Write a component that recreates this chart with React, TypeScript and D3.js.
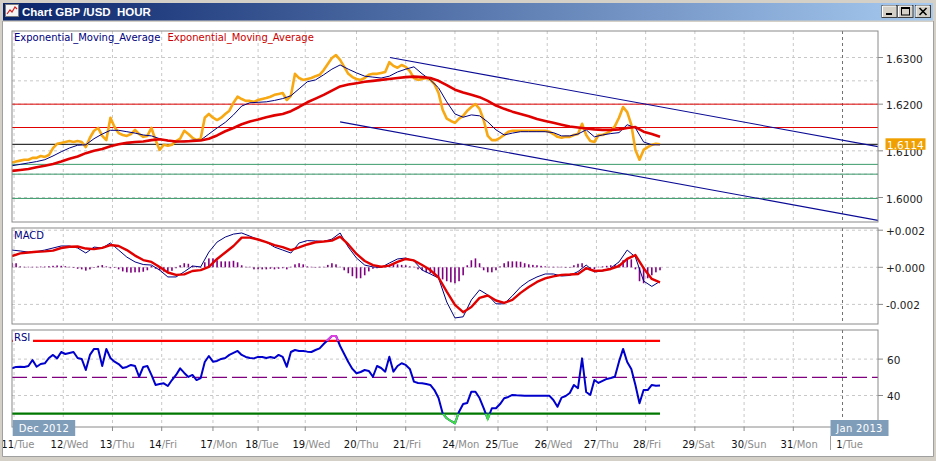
import React from "react";
import * as d3 from "d3";

// ---------------- data ----------------
const dayHours = [1, 25, 49, 73, 98, 120, 143, 168, 192, 216, 237, 261, 285, 309, 333, 357, 381, 405];
const dayNums = ["11", "12", "13", "14", "17", "18", "19", "20", "21", "24", "25", "26", "27", "28", "29", "30", "31", "1"];
const dayNames = ["Tue", "Wed", "Thu", "Fri", "Mon", "Tue", "Wed", "Thu", "Fri", "Mon", "Tue", "Wed", "Thu", "Fri", "Sat", "Sun", "Mon", "Tue"];
const monthLabels = ["Dec 2012", "Jan 2013"];
const monthStartHours = [0, 405];

const priceStep = 2; // hours between price samples
const price = [
  1.6075, 1.6077, 1.6079, 1.6081, 1.6081, 1.6085, 1.6085, 1.6089, 1.6087, 1.6091,
  1.6106, 1.6115, 1.6117, 1.6119, 1.6121, 1.6119, 1.6121, 1.6119, 1.6108, 1.6128,
  1.6143, 1.6149, 1.6132, 1.6123, 1.6171, 1.6151, 1.6138, 1.6134, 1.6132, 1.6136,
  1.6145, 1.6136, 1.6130, 1.6132, 1.6149, 1.6123, 1.6102, 1.6113, 1.6111, 1.6113,
  1.6121, 1.6126, 1.6143, 1.6136, 1.6128, 1.6123, 1.6126, 1.6171, 1.6179, 1.6171,
  1.6166, 1.6171, 1.6179, 1.6186, 1.6203, 1.6216, 1.6211, 1.6207, 1.6207, 1.6205,
  1.6209, 1.6211, 1.6213, 1.6216, 1.6220, 1.6222, 1.6224, 1.6209, 1.6218, 1.6265,
  1.6256, 1.6252, 1.6254, 1.6256, 1.6260, 1.6263, 1.6273, 1.6286, 1.6299, 1.6305,
  1.6295, 1.6280, 1.6265, 1.6258, 1.6254, 1.6252, 1.6256, 1.6263, 1.6265, 1.6265,
  1.6267, 1.6269, 1.6290, 1.6282, 1.6278, 1.6284, 1.6280, 1.6271, 1.6256, 1.6252,
  1.6254, 1.6256, 1.6252, 1.6243, 1.6224, 1.6188, 1.6169, 1.6164, 1.6160, 1.6169,
  1.6175, 1.6186, 1.6194, 1.6200, 1.6190, 1.6166, 1.6132, 1.6123, 1.6123, 1.6128,
  1.6134, 1.6141, 1.6143, 1.6143, 1.6143, 1.6143, 1.6143, 1.6143, 1.6143, 1.6143,
  1.6143, 1.6141, 1.6136, 1.6130, 1.6128, 1.6130, 1.6130, 1.6134, 1.6136, 1.6158,
  1.6134, 1.6121, 1.6119, 1.6134, 1.6134, 1.6138, 1.6143, 1.6153, 1.6171, 1.6194,
  1.6183, 1.6156, 1.6102, 1.6081, 1.6102, 1.6108, 1.6113, 1.6115, 1.6114,
];

const emaStep = 4; // hours between indicator samples
const emaFast = [
  1.6068, 1.6071, 1.6074, 1.6077, 1.6081, 1.6089, 1.6098, 1.6106, 1.6112, 1.6113,
  1.6126, 1.6136, 1.6144, 1.6144, 1.6141, 1.6138, 1.6134, 1.6132, 1.6126, 1.6121,
  1.6119, 1.6121, 1.6123, 1.6123, 1.6136, 1.6149, 1.6161, 1.6177, 1.6196, 1.6203,
  1.6204, 1.6205, 1.6208, 1.6212, 1.6218, 1.6233, 1.6248, 1.6252, 1.6263, 1.6275,
  1.6284, 1.6275, 1.6267, 1.6260, 1.6258, 1.6256, 1.6260, 1.6269, 1.6275, 1.6280,
  1.6265, 1.6252, 1.6235, 1.6205, 1.6179, 1.6172, 1.6177, 1.6175, 1.6162, 1.6145,
  1.6134, 1.6138, 1.6141, 1.6141, 1.6141, 1.6141, 1.6139, 1.6132, 1.6132, 1.6136,
  1.6145, 1.6130, 1.6134, 1.6137, 1.6139, 1.6156, 1.6149, 1.6119, 1.6113, 1.6113,
];
const emaSlow = [
  1.6057, 1.6059, 1.6061, 1.6065, 1.6068, 1.6072, 1.6077, 1.6083, 1.6088, 1.6095,
  1.6100, 1.6104, 1.6110, 1.6114, 1.6117, 1.6119, 1.6120, 1.6123, 1.6125, 1.6122,
  1.6120, 1.6120, 1.6121, 1.6122, 1.6126, 1.6133, 1.6142, 1.6149, 1.6157, 1.6163,
  1.6167, 1.6172, 1.6176, 1.6179, 1.6185, 1.6194, 1.6204, 1.6212, 1.6220, 1.6229,
  1.6238, 1.6242, 1.6245, 1.6248, 1.6250, 1.6252, 1.6254, 1.6256, 1.6258, 1.6259,
  1.6258, 1.6256, 1.6250, 1.6241, 1.6231, 1.6225, 1.6220, 1.6215, 1.6207, 1.6197,
  1.6190, 1.6184, 1.6179, 1.6174, 1.6168, 1.6164, 1.6160, 1.6156, 1.6152, 1.6150,
  1.6148, 1.6146, 1.6145, 1.6145, 1.6146, 1.6149, 1.6151, 1.6141, 1.6136, 1.6130,
];

const macdLine = [
  0.00093, 0.00088, 0.00082, 0.00085, 0.00093, 0.00104, 0.00115, 0.00115, 0.00104, 0.00077,
  0.00109, 0.00104, 0.00131, 0.00093, 0.00055, 0.00029, 0.00015, 0.00012, -0.00015, -0.00052,
  -0.00052, -0.00024, 0.00007, 0.00002, 0.00082, 0.00136, 0.00163, 0.00179, 0.00185, 0.00168,
  0.0015, 0.00136, 0.00109, 0.00093, 0.00077, 0.00131, 0.00144, 0.00142, 0.00139, 0.00152,
  0.00185, 0.00109, 0.0005, 0.00012, 0.00002, -0.00001, 0.00023, 0.00045, 0.0005, 0.00034,
  -0.00015, -0.00036, -0.00058, -0.00187, -0.00273, -0.00267, -0.00176, -0.00122, -0.00149, -0.00197,
  -0.00197, -0.00154, -0.00106, -0.00074, -0.00052, -0.00036, -0.00036, -0.00047, -0.00044, -0.00023,
  0.00012, -0.00025, -0.0002, -0.00004, 0.00029, 0.00093, 0.00055, -0.00074, -0.00103, -0.00076,
];
const signalLine = [
  0.00061, 0.00075, 0.0008, 0.00084, 0.00086, 0.0009, 0.00104, 0.00111, 0.00112, 0.00101,
  0.00098, 0.00105, 0.0012, 0.00115, 0.00093, 0.00063, 0.00039, 0.00029, 0.00002, -0.00028,
  -0.00041, -0.00038, -0.0002, -0.00015, 0.00002, 0.00045, 0.0008, 0.00115, 0.0016, 0.0016,
  0.0015, 0.00136, 0.0012, 0.00109, 0.00093, 0.00107, 0.00123, 0.00135, 0.00139, 0.00144,
  0.00165, 0.00123, 0.00072, 0.00034, 0.00012, 0.00003, 0.00009, 0.00029, 0.00045, 0.00037,
  0.00012, -0.00015, -0.00055, -0.00131, -0.00203, -0.00242, -0.00214, -0.00165, -0.00152, -0.00179,
  -0.00192, -0.00176, -0.00138, -0.00106, -0.00079, -0.0006, -0.00049, -0.00041, -0.00039, -0.00036,
  -0.00005, -0.0002, -0.00017, -0.00009, 0.00007, 0.00045, 0.00066, -0.00005, -0.00063, -0.00081,
];
const histStep = 2;
const histogram = [
  0.00024, 0.00022, 0.00005, 0.00003, 0.00003, 0.00003, 0.00003, 0.00004, 0.00004, 0.00006,
  0.00008, 0.0001, 0.00008, 0.00006, 0.00003, 0.00001, -0.00008, -0.00011, -0.00018, -0.00011,
  -0.00003, 0.00008, 0.00012, 0.00005, -0.00005, -0.00003, -0.00011, -0.00022, -0.00027, -0.00029,
  -0.00027, -0.00027, -0.00024, -0.00016, 0.00008, -0.00008, -0.00016, -0.00023, -0.00022, -0.00019,
  -0.00005, 0.00011, 0.00022, 0.00019, 0.00008, 0.00003, 0.00002, 0.00027, 0.00048, 0.00048,
  0.00038, 0.00032, 0.00032, 0.00032, 0.00035, 0.00027, 0.00011, 0.00003, 0.00003, -0.00011,
  -0.00011, -0.00011, -0.00011, -0.00008, -0.00011, -0.00008, -0.00005, -0.00011, 0.00003, 0.00016,
  0.00022, 0.00016, 0.00005, 0.00003, 0.00002, 0.00003, 0.00003, 0.00013, 0.00022, 0.00016,
  0.00003, -0.00016, -0.00032, -0.00048, -0.00059, -0.00059, -0.00043, -0.00022, -0.00008, -0.00005,
  0.00003, 0.00008, 0.00013, 0.00016, 0.00016, 0.00013, 0.00011, 0.00005, 0.00003, -0.00011,
  -0.00016, -0.00027, -0.00032, -0.00043, -0.00054, -0.00065, -0.00075, -0.00081, -0.00086, -0.00075,
  -0.00043, 0.00011, 0.00038, 0.00048, 0.00022, -0.00016, -0.00027, -0.00027, -0.00016, 0.00005,
  0.00022, 0.00032, 0.00032, 0.00032, 0.0003, 0.00022, 0.00016, 0.00013, 0.00011, 0.00008,
  0.00005, 0.00003, 0.00003, 0.00003, 0.00003, 0.00002, 0.00002, 0.00011, 0.00019, 0.00022,
  -0.00013, -0.00016, -0.00011, 0.00003, 0.00005, 0.00008, 0.00011, 0.00013, 0.00016, 0.00038,
  0.00046, 0.00043, -0.00011, -0.00075, -0.00086, -0.00059, -0.00043, -0.00027, -0.00016,
];

const rsiStep = 2;
const rsi = [
  54.9, 55.7, 55.8, 55.7, 56.2, 59.5, 55.8, 57.3, 57.7, 60.6,
  62.3, 60.4, 63.9, 62.8, 63.4, 63.9, 60.6, 60.1, 54.0, 62.3,
  65.6, 65.6, 56.2, 65.6, 60.6, 58.6, 57.3, 55.1, 55.7, 56.8,
  56.2, 50.3, 55.7, 56.2, 51.3, 45.8, 46.3, 46.7, 45.2, 48.5,
  51.3, 54.9, 52.4, 50.2, 51.3, 48.5, 49.6, 58.4, 61.7, 58.6,
  59.0, 60.1, 60.6, 62.3, 63.4, 64.5, 62.3, 61.2, 60.6, 60.4,
  61.2, 61.2, 60.6, 61.2, 60.6, 62.3, 61.2, 55.8, 63.9, 65.0,
  64.5, 64.5, 64.1, 63.9, 65.0, 65.9, 68.3, 70.5, 72.7, 72.7,
  67.2, 62.8, 58.4, 54.6, 52.2, 52.9, 54.0, 53.5, 50.3, 56.2,
  55.1, 53.1, 61.3, 53.1, 56.2, 57.7, 56.8, 54.6, 47.6, 46.9,
  46.7, 46.3, 45.8, 43.0, 38.6, 30.2, 27.5, 26.0, 24.7, 31.1,
  35.3, 35.9, 42.1, 42.1, 38.6, 33.1, 27.1, 33.0, 33.0, 35.3,
  38.5, 39.2, 40.3, 40.1, 40.0, 39.9, 39.9, 39.9, 39.9, 39.9,
  39.9, 39.9, 37.5, 33.8, 38.8, 39.7, 41.4, 45.8, 44.0, 60.4,
  41.9, 40.3, 48.5, 46.9, 48.0, 49.1, 49.6, 50.3, 58.6, 65.6,
  58.4, 54.6, 45.8, 35.7, 43.0, 43.0, 45.8, 45.4, 45.5,
];

const priceTicks = [1.63, 1.62, 1.61, 1.6];
const priceGrid = [1.6, 1.605, 1.61, 1.615, 1.62, 1.625, 1.63];
const redLevels = [1.62, 1.615];
const blackLevels = [1.6114];
const greenLevels = [1.6071, 1.605, 1.5998];
// [startHour, startPrice, endHour, endPrice]
const trendLines = [
  [184.3, 1.63, 422.3, 1.6109],
  [160, 1.6162, 422.3, 1.5951],
];
const lastPrice = 1.6114;
const macdTicks = [0.002, 0, -0.002];
const macdTickLabels = ["+0.002", "+0.000", "-0.002"];
const rsiTicks = [60, 40];
const rsiOver = 70;
const rsiMid = 50;
const rsiUnder = 30;
const title = "Chart GBP /USD  HOUR";
const legendNames = ["Exponential_Moving_Average", "Exponential_Moving_Average"];

// ---------------- layout ----------------
const W = 936;
const H = 461;
const L = 12;
const R = 878;
const P1 = { top: 31, bottom: 222 };
const P2 = { top: 228, bottom: 324 };
const P3 = { top: 330, bottom: 427 };
const FONT = "'DejaVu Sans', Verdana, sans-serif";

const x = d3.scaleLinear().domain([0, 422.3]).range([L, R]);
const yP = d3.scaleLinear().domain([1.59475, 1.635679]).range([P1.bottom, P1.top]);
const yM = d3.scaleLinear().domain([-0.003057, 0.002119]).range([P2.bottom, P2.top]);
const yR = d3.scaleLinear().domain([22.69, 75.99]).range([P3.bottom, P3.top]);

function pathOf(arr: number[], step: number, y: (v: number) => number) {
  return (
    d3
      .line<number>()
      .x((_, i) => x(i * step))
      .y((d) => y(d))(arr) || ""
  );
}

const ORANGE = "#F7A812";
const NAVY = "#000080";
const RED = "#E00000";
const GREEN = "#3A9A6A";

export default function App() {
  const dataEndX = x((rsi.length - 1) * rsiStep);
  const vGrid = dayHours.slice(0, dayHours.length - 1);
  const janX = x(dayHours[dayHours.length - 1]);

  const panelGridV = (p: { top: number; bottom: number }, key: string) => (
    <g key={key}>
      {vGrid.map((h, i) => (
        <line key={i} x1={x(h)} x2={x(h)} y1={p.top} y2={p.bottom} stroke="#C8C8C8" strokeDasharray="3,3" />
      ))}
      <line x1={janX} x2={janX} y1={p.top} y2={p.bottom} stroke="#707070" strokeDasharray="3,3" />
    </g>
  );

  return (
    <svg width={W} height={H} style={{ position: "absolute", left: 0, top: 0, display: "block" }} fontFamily={FONT}>
      <defs>
        <linearGradient id="tb" x1="0" x2="1" y1="0" y2="0">
          <stop offset="0" stopColor="#0A246A" />
          <stop offset="1" stopColor="#A6CAF0" />
        </linearGradient>
        <clipPath id="c1">
          <rect x={L} y={P1.top} width={R - L} height={P1.bottom - P1.top} />
        </clipPath>
        <clipPath id="c2">
          <rect x={L} y={P2.top} width={R - L} height={P2.bottom - P2.top} />
        </clipPath>
        <clipPath id="c3">
          <rect x={L} y={P3.top} width={R - L} height={P3.bottom - P3.top} />
        </clipPath>
        <clipPath id="rsiHigh">
          <rect x={L} y={P3.top} width={R - L} height={yR(rsiOver) - P3.top} />
        </clipPath>
        <clipPath id="rsiLow">
          <rect x={L} y={yR(rsiUnder)} width={R - L} height={P3.bottom - yR(rsiUnder)} />
        </clipPath>
      </defs>

      {/* window background */}
      <rect x={0} y={0} width={W} height={H} fill="#D4D0C8" />
      <rect x={3} y={22} width={930} height={434.5} fill="#FFFFFF" />

      {/* ---------- panel 1: price ---------- */}
      {priceGrid.map((p, i) => (
        <line key={i} x1={L} x2={R} y1={yP(p)} y2={yP(p)} stroke="#C8C8C8" strokeDasharray="3,3" />
      ))}
      {panelGridV(P1, "g1")}
      <g clipPath="url(#c1)">
        {redLevels.map((p, i) => (
          <line key={"r" + i} x1={L} x2={R} y1={yP(p)} y2={yP(p)} stroke={RED} strokeWidth={1} />
        ))}
        {greenLevels.map((p, i) => (
          <line key={"g" + i} x1={L} x2={R} y1={yP(p)} y2={yP(p)} stroke={GREEN} strokeWidth={1} />
        ))}
        {blackLevels.map((p, i) => (
          <line key={"b" + i} x1={L} x2={R} y1={yP(p)} y2={yP(p)} stroke="#000" strokeWidth={1} />
        ))}
        {trendLines.map((t, i) => (
          <line key={"t" + i} x1={x(t[0])} y1={yP(t[1])} x2={x(t[2])} y2={yP(t[3])} stroke="#0A0A96" strokeWidth={1.1} />
        ))}
        <path d={pathOf(price, priceStep, yP)} fill="none" stroke={ORANGE} strokeWidth={2.6} strokeLinejoin="round" />
        <path d={pathOf(emaFast, emaStep, yP)} fill="none" stroke={NAVY} strokeWidth={1} />
        <path d={pathOf(emaSlow, emaStep, yP)} fill="none" stroke={RED} strokeWidth={2.6} strokeLinejoin="round" />
      </g>
      <rect x={L} y={P1.top} width={R - L} height={P1.bottom - P1.top} fill="none" stroke="#8A8A8A" />
      <text x={14} y={41} fontSize={10} fill={NAVY}>{legendNames[0]}</text>
      <text x={167.5} y={41} fontSize={10} fill="#CC0000">{legendNames[1]}</text>
      {priceTicks.map((p, i) => (
        <g key={i}>
          <line x1={R} x2={R + 5} y1={yP(p)} y2={yP(p)} stroke="#8A8A8A" />
          <text x={886} y={yP(p) + 5} fontSize={10.5} fill="#222">{p.toFixed(4)}</text>
        </g>
      ))}
      <rect x={885.5} y={yP(lastPrice) - 6} width={40} height={11.5} fill="#F0A000" />
      <text x={887} y={yP(lastPrice) + 4.3} fontSize={10.5} fill="#FFFFFF">{lastPrice.toFixed(4)}</text>

      {/* ---------- panel 2: MACD ---------- */}
      {macdTicks.map((v, i) => (
        <line key={i} x1={L} x2={R} y1={yM(v)} y2={yM(v)} stroke="#C8C8C8" strokeDasharray="3,3" />
      ))}
      {panelGridV(P2, "g2")}
      <g clipPath="url(#c2)">
        {histogram.map((v, i) => (
          <rect
            key={i}
            x={x(i * histStep) - 0.8}
            width={1.6}
            y={Math.min(yM(v), yM(0))}
            height={Math.max(0.6, Math.abs(yM(v) - yM(0)))}
            fill="#800080"
          />
        ))}
        <path d={pathOf(macdLine, emaStep, yM)} fill="none" stroke={NAVY} strokeWidth={1} />
        <path d={pathOf(signalLine, emaStep, yM)} fill="none" stroke={RED} strokeWidth={2.4} strokeLinejoin="round" />
      </g>
      <rect x={L} y={P2.top} width={R - L} height={P2.bottom - P2.top} fill="none" stroke="#8A8A8A" />
      <text x={14} y={239} fontSize={10} fill={NAVY}>MACD</text>
      {macdTicks.map((v, i) => (
        <g key={i}>
          <line x1={R} x2={R + 5} y1={yM(v)} y2={yM(v)} stroke="#8A8A8A" />
          <text x={886} y={yM(v) + 5} fontSize={10.5} fill="#222">{macdTickLabels[i]}</text>
        </g>
      ))}

      {/* ---------- panel 3: RSI ---------- */}
      {rsiTicks.map((v, i) => (
        <line key={i} x1={L} x2={R} y1={yR(v)} y2={yR(v)} stroke="#C8C8C8" strokeDasharray="3,3" />
      ))}
      {panelGridV(P3, "g3")}
      <g clipPath="url(#c3)">
        <line x1={L} x2={R} y1={yR(rsiMid)} y2={yR(rsiMid)} stroke="#800080" strokeWidth={1.2} strokeDasharray="15,5" />
        <line x1={L} x2={dataEndX} y1={yR(rsiOver)} y2={yR(rsiOver)} stroke="#FF0000" strokeWidth={2.2} />
        <line x1={L} x2={dataEndX} y1={yR(rsiUnder)} y2={yR(rsiUnder)} stroke="#007800" strokeWidth={2.2} />
        <path d={pathOf(rsi, rsiStep, yR)} fill="none" stroke="#0000CC" strokeWidth={2} strokeLinejoin="round" />
        <path d={pathOf(rsi, rsiStep, yR)} fill="none" stroke="#E040E0" strokeWidth={2} clipPath="url(#rsiHigh)" />
        <path d={pathOf(rsi, rsiStep, yR)} fill="none" stroke="#40E040" strokeWidth={2} clipPath="url(#rsiLow)" />
      </g>
      <rect x={13} y={332} width={20} height={11} fill="#FFFFFF" />
      <text x={14} y={341} fontSize={10} fill={NAVY}>RSI</text>
      <rect x={L} y={P3.top} width={R - L} height={P3.bottom - P3.top} fill="none" stroke="#8A8A8A" />
      {rsiTicks.map((v, i) => (
        <g key={i}>
          <line x1={R} x2={R + 5} y1={yR(v)} y2={yR(v)} stroke="#8A8A8A" />
          <text x={887} y={yR(v) + 5} fontSize={10.5} fill="#222">{v}</text>
        </g>
      ))}

      {/* ---------- x axis ---------- */}
      {dayHours.map((h, i) => (
        <g key={i}>
          <line x1={x(h)} x2={x(h)} y1={P3.bottom} y2={P3.bottom + 4} stroke="#8A8A8A" />
          <text x={x(h)} y={448} fontSize={10} fill="#111" textAnchor="end">{dayNums[i]}</text>
          <text x={x(h)} y={448} fontSize={10} fill="#8C8C8C">{"/" + dayNames[i]}</text>
        </g>
      ))}
      <line x1={janX - 12} x2={janX - 12} y1={436} y2={450} stroke="#A0A0A0" />
      {monthLabels.map((m, i) => {
        const bx = i === 0 ? L + 0.7 : x(monthStartHours[i]) - 12;
        return (
          <g key={m}>
            <rect x={bx} y={420} width={i === 0 ? 62.5 : 58} height={16} fill="#7F9DB9" />
            <text x={bx + (i === 0 ? 31.2 : 29)} y={432} fontSize={10} fill="#FFFFFF" textAnchor="middle" letterSpacing={0.3}>
              {m}
            </text>
          </g>
        );
      })}

      {/* ---------- window frame ---------- */}
      <rect x={0} y={0} width={3} height={H} fill="#D4D0C8" />
      <line x1={2.5} x2={2.5} y1={21} y2={457} stroke="#A0A0A0" />
      <rect x={933} y={0} width={3} height={H} fill="#D4D0C8" />
      <line x1={933.5} x2={933.5} y1={21} y2={457} stroke="#A0A0A0" />
      <rect x={0} y={456.5} width={W} height={4.5} fill="#D4D0C8" />
      <line x1={2.5} x2={933.5} y1={456.5} y2={456.5} stroke="#A0A0A0" />
      <rect x={0} y={0} width={W} height={3} fill="#D4D0C8" />
      <rect x={3} y={3} width={930} height={17.5} fill="url(#tb)" />
      {/* icon */}
      <rect x={5.5} y={4.5} width={13} height={12} fill="#F4F4F4" stroke="#7A7A7A" />
      <polyline points="7,14 10,10 12,12 15,7 17,9" fill="none" stroke="#D02020" strokeWidth={1.2} />
      <text
        x={22}
        y={16}
        fontSize={11.5}
        fontWeight="bold"
        fill="#FFFFFF"
        fontFamily="'Liberation Sans', Arial, sans-serif"
        style={{ whiteSpace: "pre" }}
        xmlSpace="preserve"
      >
        {title}
      </text>
      {/* title buttons */}
      {[882, 898, 915.5].map((bx, i) => (
        <g key={i}>
          <rect x={bx} y={5.5} width={15} height={12} fill="#D4D0C8" stroke="#404040" />
          <line x1={bx + 0.5} x2={bx + 14} y1={6} y2={6} stroke="#FFFFFF" />
          <line x1={bx + 0.5} x2={bx + 0.5} y1={6} y2={17} stroke="#FFFFFF" />
          {i === 0 && <rect x={bx + 4} y={13} width={6} height={2} fill="#000" />}
          {i === 1 && (
            <g>
              <rect x={bx + 3.5} y={7.5} width={8} height={7.5} fill="none" stroke="#000" />
              <line x1={bx + 3.5} x2={bx + 11.5} y1={8.5} y2={8.5} stroke="#000" />
            </g>
          )}
          {i === 2 && (
            <g stroke="#000" strokeWidth={1.6}>
              <line x1={bx + 4} x2={bx + 11} y1={8} y2={15} />
              <line x1={bx + 11} x2={bx + 4} y1={8} y2={15} />
            </g>
          )}
        </g>
      ))}
    </svg>
  );
}
